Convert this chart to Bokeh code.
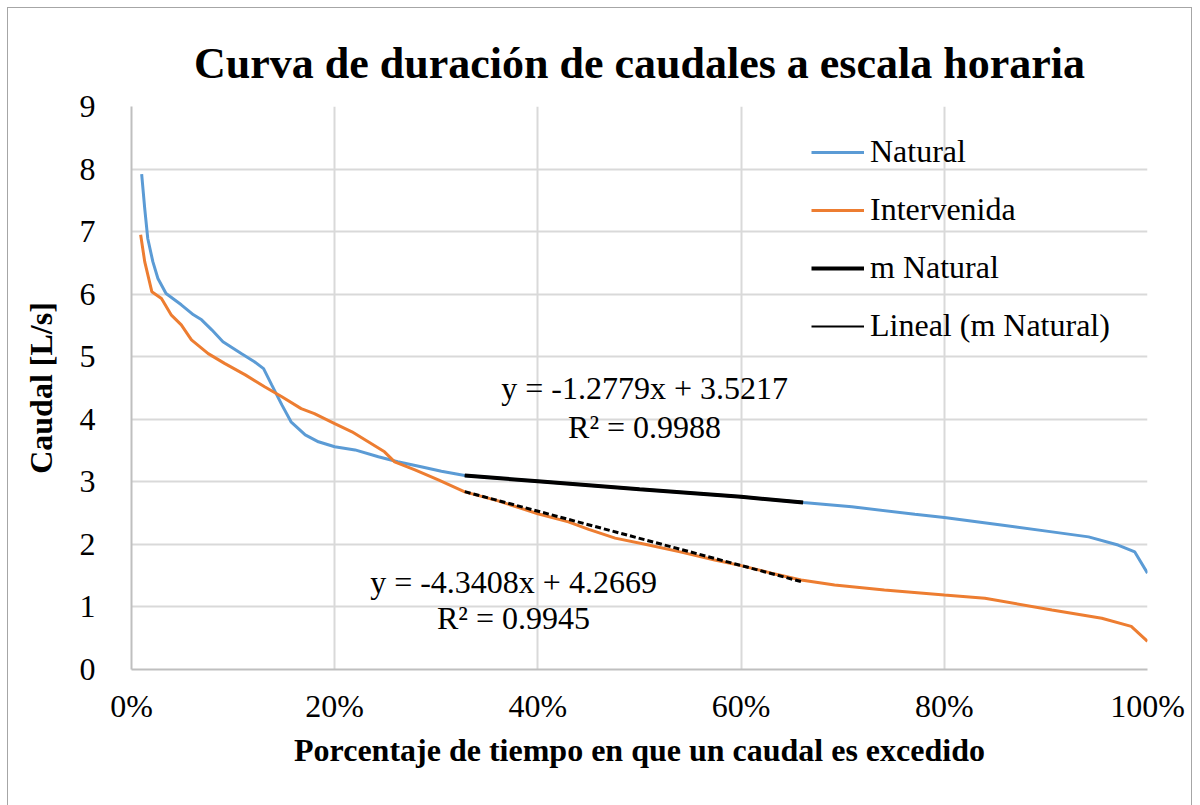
from bokeh.plotting import figure
from bokeh.models import (Range1d, FixedTicker, PrintfTickFormatter, Legend, LegendItem, Label)
from bokeh.embed import file_html
from bokeh.resources import INLINE

# ---- data ----
natural_x = [1.0, 1.3, 1.6, 2.1, 2.6, 3.4, 4.9, 6.1, 6.9, 7.9, 9.0, 10.8, 12.1, 13.0, 13.8,
             14.8, 15.7, 17.1, 18.4, 20.0, 22.0, 24.3, 26.2, 28.5, 30.5, 32.8, 40.0, 50.0,
             60.0, 66.1, 70.9, 77.1, 80.0, 85.6, 90.6, 94.2, 97.1, 98.75, 100.0]
natural_y = [7.92, 7.37, 6.89, 6.52, 6.25, 6.01, 5.83, 5.67, 5.59, 5.43, 5.24, 5.05, 4.92, 4.81, 4.55,
             4.23, 3.96, 3.75, 3.64, 3.56, 3.51, 3.40, 3.32, 3.24, 3.17, 3.10, 3.01, 2.88,
             2.76, 2.67, 2.60, 2.48, 2.43, 2.31, 2.20, 2.12, 1.99, 1.88, 1.54]

interv_x = [0.9, 1.3, 2.0, 2.95, 3.9, 4.9, 5.9, 7.55, 9.2, 11.2, 13.1, 14.8, 16.7, 18.0, 20.0,
            21.7, 23.3, 24.9, 25.9, 27.9, 30.2, 32.8, 36.0, 40.0, 43.0, 45.0, 47.6, 50.9, 54.0,
            57.4, 60.0, 63.0, 65.9, 69.2, 74.1, 80.0, 84.0, 90.6, 95.5, 98.4, 100.0]
interv_y = [6.95, 6.52, 6.04, 5.93, 5.67, 5.51, 5.27, 5.05, 4.89, 4.71, 4.52, 4.36, 4.17, 4.09, 3.93,
            3.80, 3.64, 3.48, 3.32, 3.19, 3.03, 2.84, 2.70, 2.49, 2.36, 2.24, 2.10, 1.99, 1.88,
            1.75, 1.66, 1.54, 1.43, 1.35, 1.27, 1.19, 1.14, 0.95, 0.82, 0.69, 0.45]

m_natural_x = [32.8, 40.0, 50.0, 60.0, 66.1]
m_natural_y = [3.10, 3.01, 2.88, 2.76, 2.67]

# trend lines (x as fraction in the equations)
trend_nat = (-1.2779, 3.5217)
trend_int = (-4.3408, 4.2669)
trend_span = [32.8, 66.1]

eq_nat = ["y = -1.2779x + 3.5217", "R² = 0.9988"]
eq_int = ["y = -4.3408x + 4.2669", "R² = 0.9945"]

x_ticks = [0, 20, 40, 60, 80, 100]
y_ticks = list(range(0, 10))

SERIF = "Liberation Serif"
BLUE = "#5b9bd5"
ORANGE = "#ed7d31"

p = figure(width=1185, height=800, output_backend="svg", toolbar_location=None,
           x_range=Range1d(0, 100), y_range=Range1d(0, 9),
           min_border_left=123, min_border_right=46, min_border_top=98, min_border_bottom=139,
           title="Curva de duración de caudales a escala horaria",
           styles={"border": "1px solid #a6a6a6", "box-sizing": "border-box",
                   "margin-left": "7px", "margin-top": "7px"})

p.title.align = "center"
p.title.text_font = SERIF
p.title.text_font_size = "44px"
p.title.text_font_style = "bold"
p.title.text_color = "black"
p.title.standoff = 38

p.outline_line_color = None
for ax in (p.xaxis[0], p.yaxis[0]):
    ax.major_tick_line_color = None
    ax.minor_tick_line_color = None
    ax.axis_line_color = "#bfbfbf"
    ax.axis_line_width = 2
    ax.major_label_text_font = SERIF
    ax.major_label_text_font_size = "32px"
    ax.major_label_text_color = "black"
    ax.axis_label_text_font = SERIF
    ax.axis_label_text_font_style = "bold"
    ax.axis_label_text_color = "black"
    ax.axis_label_text_font_size = "32px"

p.xaxis.ticker = FixedTicker(ticks=x_ticks)
p.yaxis.ticker = FixedTicker(ticks=y_ticks)
p.xaxis.formatter = PrintfTickFormatter(format="%d%%")
p.xaxis.major_label_standoff = 12
p.yaxis.major_label_standoff = 30
p.xaxis.axis_label = "Porcentaje de tiempo en que un caudal es excedido"
p.yaxis.axis_label = "Caudal [L/s]"
p.xaxis.axis_label_standoff = 5
p.yaxis.axis_label_standoff = 18

p.xgrid.ticker = FixedTicker(ticks=x_ticks)
p.ygrid.ticker = FixedTicker(ticks=y_ticks)
p.xgrid.grid_line_color = "#d9d9d9"
p.ygrid.grid_line_color = "#d9d9d9"
p.xgrid.grid_line_width = 2
p.ygrid.grid_line_width = 2

r_nat = p.line(natural_x, natural_y, line_color=BLUE, line_width=3)
r_int = p.line(interv_x, interv_y, line_color=ORANGE, line_width=3)
r_m = p.line(m_natural_x, m_natural_y, line_color="black", line_width=4)

tx = trend_span
r_tn = p.line(tx, [trend_nat[0] * v / 100 + trend_nat[1] for v in tx], line_color="black", line_width=2)
r_ti = p.line(tx, [trend_int[0] * v / 100 + trend_int[1] for v in tx], line_color="black",
              line_width=3, line_dash="6 3")

legend = Legend(items=[
    LegendItem(label="Natural", renderers=[r_nat]),
    LegendItem(label="Intervenida", renderers=[r_int]),
    LegendItem(label="m Natural", renderers=[r_m]),
    LegendItem(label="Lineal (m Natural)", renderers=[r_tn]),
], location=(680, 325))
legend.background_fill_alpha = 0
legend.border_line_color = None
legend.padding = 0
legend.margin = 0
legend.spacing = 21
legend.glyph_width = 53
legend.glyph_height = 36
legend.label_height = 36
legend.label_standoff = 6
legend.label_text_font = SERIF
legend.label_text_font_size = "32px"
legend.label_text_color = "black"
p.add_layout(legend, "center")

eq_pos_nat = [(50.5, 4.50), (50.5, 3.88)]
eq_pos_int = [(37.6, 1.40), (37.6, 0.83)]
for txts, poss in ((eq_nat, eq_pos_nat), (eq_int, eq_pos_int)):
    for t, (x, y) in zip(txts, poss):
        p.add_layout(Label(x=x, y=y, text=t, text_font=SERIF, text_font_size="32px",
                           text_align="center", text_baseline="middle", text_color="black"))

open("out.html", "w").write(file_html(p, INLINE))
